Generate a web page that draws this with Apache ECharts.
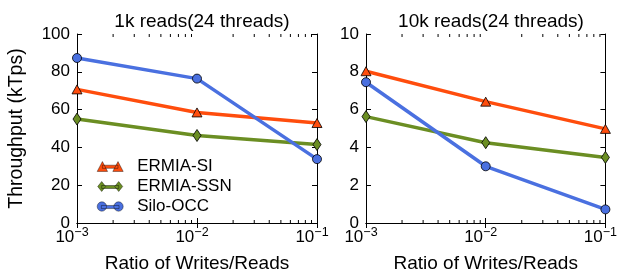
<!DOCTYPE html>
<html><head><meta charset="utf-8">
<script src="https://cdn.jsdelivr.net/npm/echarts@6/dist/echarts.min.js"></script>
<style>html,body{margin:0;padding:0;background:#fff}#c{width:620px;height:278px}</style>
</head><body><div id="c"></div>
<script>
// ---- data ----
const xValues = [0.001, 0.01, 0.1];
const minorTicks = [0.002,0.003,0.004,0.005,0.006,0.007,0.008,0.009,0.02,0.03,0.04,0.05,0.06,0.07,0.08,0.09];
const titles = ['1k reads(24 threads)', '10k reads(24 threads)'];
const seriesNames = ['ERMIA-SI', 'ERMIA-SSN', 'Silo-OCC'];
const si1k = [70.7, 58.5, 52.9];
const ssn1k = [55.0, 46.3, 41.5];
const silo1k = [87.3, 76.4, 33.8];
const si10k = [8.03, 6.42, 4.98];
const ssn10k = [5.63, 4.25, 3.47];
const silo10k = [7.45, 3.0, 0.72];
const yMax = [100, 10];
const yInterval = [20, 2];

const FONT = 'Liberation Sans';
const colors = ['#ff4d0d', '#6b8e23', '#4a70e0'];
const symbols = ['triangle', 'diamond', 'circle'];
const symbolSizes = [[10, 9], [8, 12], 9];
const legendIcons = [
  'path://M0,10 L5,0.5 L10,10 Z M5,4 L20,4 L20,7 L5,7 Z M15,10 L20,0.5 L25,10 Z',
  'path://M4,0 L8,5 L4,10 L0,5 Z M4,4 L21,4 L21,7 L4,7 Z M21,0 L25,5 L21,10 L17,5 Z',
  'path://M0,5 A4.5,4.5 0 1,1 9,5 A4.5,4.5 0 1,1 0,5 Z M4,4 L21,4 L21,7 L4,7 Z M16,5 A4.5,4.5 0 1,1 25,5 A4.5,4.5 0 1,1 16,5 Z'
];
const dataSets = [[si1k, ssn1k, silo1k], [si10k, ssn10k, silo10k]];

const gridLefts = [77, 366];
const grids = gridLefts.map(l => ({left: l, top: 34, width: 240, height: 191, containLabel: false}));

const xAxes = [], yAxes = [], series = [], titleArr = [];
for (let g = 0; g < 2; g++) {
  xAxes.push({
    type: 'log', logBase: 10, min: 0.001, max: 0.1, gridIndex: g, position: 'bottom',
    axisLine: {lineStyle: {color: '#000', width: 1}},
    axisTick: {inside: true, length: 5, lineStyle: {color: '#000'}},
    splitLine: {show: false},
    name: 'Ratio of Writes/Reads', nameLocation: 'middle', nameGap: 31,
    nameTextStyle: {fontFamily: FONT, fontSize: 19, color: '#000'},
    axisLabel: {
      margin: 3, padding: [0, 10, 0, 0],
      formatter: v => '{b|10}{s|\u2212' + Math.abs(Math.round(Math.log10(v))) + '}',
      rich: {
        b: {fontFamily: FONT, fontSize: 17, color: '#000', lineHeight: 20, verticalAlign: 'bottom'},
        s: {fontFamily: FONT, fontSize: 12.5, color: '#000', lineHeight: 20, verticalAlign: 'top', padding: [0, 0, 7, 0]}
      }
    }
  });
  xAxes.push({
    type: 'log', logBase: 10, min: 0.001, max: 0.1, gridIndex: g, position: 'top',
    axisLine: {lineStyle: {color: '#000', width: 1}},
    axisTick: {inside: true, length: 5, lineStyle: {color: '#000'}},
    axisLabel: {show: false}, splitLine: {show: false}
  });
  yAxes.push({
    type: 'value', min: 0, max: yMax[g], interval: yInterval[g], gridIndex: g, position: 'left',
    axisLine: {show: true, lineStyle: {color: '#000', width: 1}},
    axisTick: {show: true, inside: true, length: 5, lineStyle: {color: '#000'}},
    splitLine: {show: false},
    axisLabel: {margin: 7, fontFamily: FONT, fontSize: 17, color: '#000'},
    name: g === 0 ? 'Throughput (kTps)' : '', nameLocation: 'middle', nameGap: 50,
    nameTextStyle: {fontFamily: FONT, fontSize: 19.5, color: '#000'}
  });
  yAxes.push({
    type: 'value', min: 0, max: yMax[g], interval: yInterval[g], gridIndex: g, position: 'right',
    axisLine: {show: true, lineStyle: {color: '#000', width: 1}},
    axisTick: {show: true, inside: true, length: 5, lineStyle: {color: '#000'}},
    axisLabel: {show: false}, splitLine: {show: false}
  });
  titleArr.push({
    text: titles[g], left: gridLefts[g] + 120, top: 7, textAlign: 'center',
    textStyle: {fontFamily: FONT, fontSize: 19, fontWeight: 'normal', color: '#000'}
  });
  for (let s = 0; s < 3; s++) {
    series.push({
      type: 'line', name: seriesNames[s], xAxisIndex: 2 * g, yAxisIndex: 2 * g,
      data: xValues.map((x, i) => [x, dataSets[g][s][i]]),
      lineStyle: {color: colors[s], width: 3.5},
      itemStyle: {color: colors[s], borderColor: '#000', borderWidth: 0.8},
      symbol: symbols[s], symbolSize: symbolSizes[s], showSymbol: true,
      animation: false, z: 3 + s
    });
  }
  series.push({
    type: 'custom', xAxisIndex: 2 * g, yAxisIndex: 2 * g, silent: true, animation: false,
    data: minorTicks.map(v => [v, 0]),
    renderItem: (params, api) => {
      const x = api.coord([api.value(0), 0])[0];
      const cs = params.coordSys;
      return {type: 'group', children: [
        {type: 'line', shape: {x1: x, y1: cs.y + cs.height, x2: x, y2: cs.y + cs.height - 3}, style: {stroke: '#000', lineWidth: 1}},
        {type: 'line', shape: {x1: x, y1: cs.y, x2: x, y2: cs.y + 3}, style: {stroke: '#000', lineWidth: 1}}
      ]};
    }
  });
}

const chart = echarts.init(document.getElementById('c'), null, {renderer: 'canvas'});
chart.setOption({
  animation: false,
  backgroundColor: '#fff',
  title: titleArr,
  grid: grids,
  xAxis: xAxes,
  yAxis: yAxes,
  legend: {
    data: seriesNames.map((n, i) => ({name: n, icon: legendIcons[i], itemStyle: {color: colors[i], borderColor: '#000', borderWidth: 0.4}})),
    orient: 'vertical', left: 92, top: 153, itemWidth: 26, itemHeight: 10, itemGap: 3,
    selectedMode: false,
    textStyle: {fontFamily: FONT, fontSize: 17, color: '#000', padding: [0, 0, 0, 9]}
  },
  series: series
});
</script></body></html>
